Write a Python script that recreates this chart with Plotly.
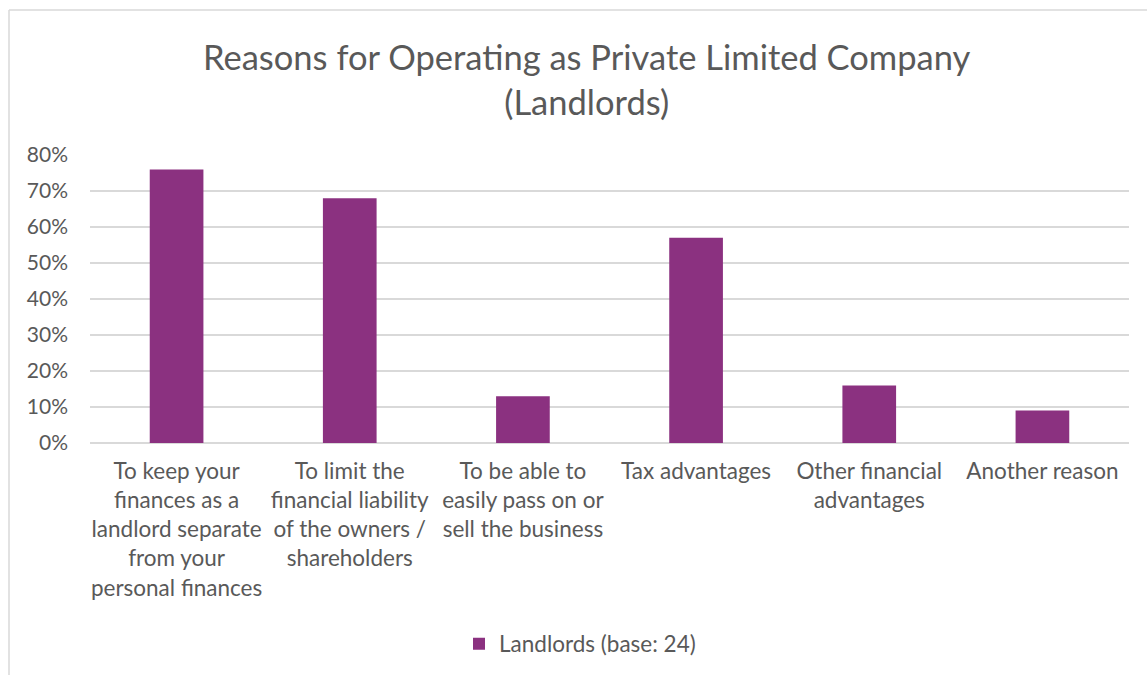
import plotly.graph_objects as go

categories = [
    "To keep your<br>finances as a<br>landlord separate<br>from your<br>personal finances",
    "To limit the<br>financial liability<br>of the owners /<br>shareholders",
    "To be able to<br>easily pass on or<br>sell the business",
    "Tax advantages",
    "Other financial<br>advantages",
    "Another reason",
]
values = [0.76, 0.68, 0.13, 0.57, 0.16, 0.09]
series_name = "Landlords (base: 24)"
title_text = "Reasons for Operating as Private Limited Company<br>(Landlords)"
y_ticks = [0, 0.1, 0.2, 0.3, 0.4, 0.5, 0.6, 0.7, 0.8]

FONT = "Lato, Open Sans, sans-serif"
GREY = "#595959"
BAR = "#8B3180"

W, H = 1147, 675
L, R, T, B = 90, 18, 155, 232
pw = W - L - R
ph = H - T - B

def px_to_paper_x(x):
    return (x - L) / pw

def px_to_paper_y(y):
    return (H - B - y) / ph

fig = go.Figure()
fig.add_trace(go.Bar(
    x=categories, y=values, name=series_name,
    marker=dict(color=BAR, line=dict(width=0)),
    showlegend=True,
))

fig.update_layout(
    width=W, height=H,
    margin=dict(l=L, r=R, t=T, b=B, autoexpand=False),
    paper_bgcolor="white", plot_bgcolor="white",
    font=dict(family=FONT, color=GREY, size=22),
    bargap=0.69,
    showlegend=True,
    legend=dict(orientation="h", x=px_to_paper_x(580), xanchor="center",
                y=px_to_paper_y(644), yanchor="middle",
                font=dict(size=22.5, color=GREY, family=FONT),
                itemwidth=30, bgcolor="rgba(0,0,0,0)"),
    xaxis=dict(showgrid=False, showline=False, zeroline=False, ticks="",
               ticklabelstandoff=12,
               tickfont=dict(size=22.5, color=GREY, family=FONT), tickangle=0),
    yaxis=dict(range=[0, 0.8], tickvals=y_ticks, tickformat=".0%",
               showgrid=True, gridcolor="#d9d9d9", gridwidth=1.5,
               zeroline=True, zerolinecolor="#d9d9d9", zerolinewidth=1.5,
               showline=False, ticks="", ticklabelstandoff=21,
               tickfont=dict(size=21, color=GREY, family=FONT)),
    annotations=[dict(text=title_text, x=px_to_paper_x(586), xref="paper",
                      y=px_to_paper_y(79), yref="paper", xanchor="center",
                      yanchor="middle", showarrow=False,
                      font=dict(size=34.5, color=GREY, family=FONT))],
    shapes=[
        dict(type="line", xref="paper", yref="paper",
             x0=px_to_paper_x(9), x1=px_to_paper_x(9),
             y0=px_to_paper_y(10), y1=px_to_paper_y(700),
             line=dict(color="#d9d9d9", width=1.5)),
        dict(type="line", xref="paper", yref="paper",
             x0=px_to_paper_x(9), x1=px_to_paper_x(1160),
             y0=px_to_paper_y(10), y1=px_to_paper_y(10),
             line=dict(color="#d9d9d9", width=1.5)),
    ],
)

fig.write_html("out.html")
